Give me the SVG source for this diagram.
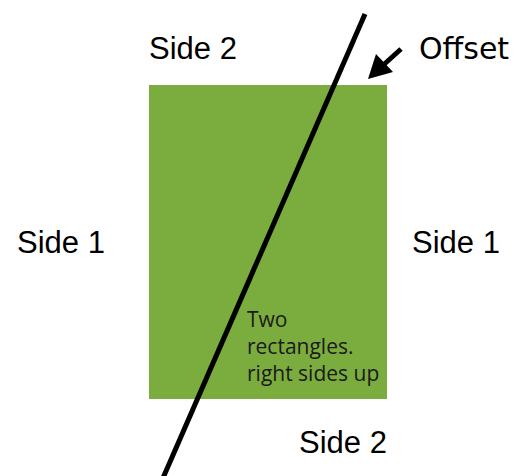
<svg xmlns="http://www.w3.org/2000/svg" width="529" height="476" viewBox="0 0 529 476">
<style>
.lbl{font-family:"Liberation Sans",Arial,sans-serif;font-size:31px;fill:#000}
.off{font-family:"DejaVu Sans",sans-serif;font-size:30px;fill:#000}
.inner{font-family:"Open Sans",Lato,sans-serif;font-size:21px;fill:#1a1a1a}
</style>
<rect width="529" height="476" fill="#fff"/>
<g id="rectangle">
<rect x="149" y="85" width="238" height="314" fill="#7bad3e"/>
<text class="inner" x="247" y="327">Two</text>
<text class="inner" x="247" y="354">rectangles.</text>
<text class="inner" x="247" y="381">right sides up</text>
</g>
<g id="labels">
<text class="lbl" x="149" y="59">Side 2</text>
<text class="lbl" x="17" y="253">Side 1</text>
<text class="lbl" x="412" y="253">Side 1</text>
<text class="lbl" x="299" y="453">Side 2</text>
<text class="off" x="419" y="59">Offset</text>
</g>
<g id="connectors">
<line x1="365" y1="14" x2="163" y2="478" stroke="#000" stroke-width="5"/>
<line x1="401" y1="49" x2="380" y2="68" stroke="#000" stroke-width="5"/>
<polygon points="368,79 376,54 393,72" fill="#000"/>
</g>
</svg>
